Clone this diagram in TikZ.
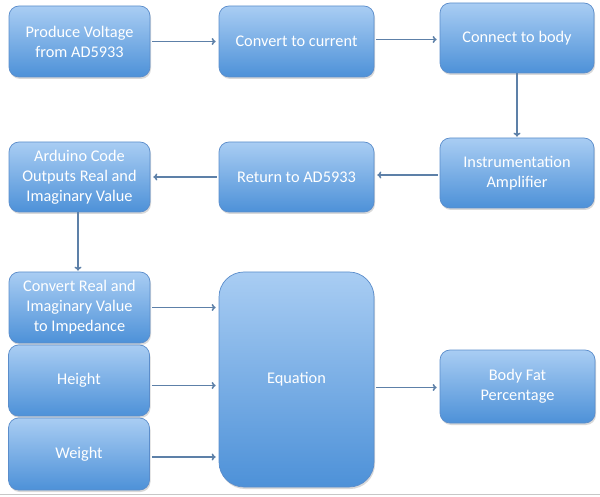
\documentclass[tikz,border=0pt]{standalone}
\usepackage{fontspec}
\setmainfont{Carlito}
\usetikzlibrary{shadows,arrows.meta}
\definecolor{boxtop}{HTML}{A9CDF3}
\definecolor{boxbot}{HTML}{4D91D8}
\definecolor{boxline}{HTML}{5B8DCB}
\definecolor{arrowc}{HTML}{5D80A8}
\begin{document}
\begin{tikzpicture}[x=1pt,y=1pt,
  box/.style={draw=boxline, line width=0.7pt, rounded corners=10pt,
    top color=boxtop, bottom color=boxbot, text=white, align=center,
    font=\fontsize{16.3}{20}\selectfont, inner sep=2pt,
    drop shadow={shadow xshift=1pt, shadow yshift=-2pt, opacity=0.25, fill=black!60}},
  conn/.style={draw=arrowc, line width=1.5pt, -{To[length=4pt,width=7pt]}, shorten >=3pt}]
\useasboundingbox (0,0) rectangle (600,496);
\draw[line width=1.5pt, black!22] (0,1.5) -- (600,1.5);
\node[box, minimum width=141pt, minimum height=71pt] (b1) at (79.5,454.5) {Produce Voltage\\from AD5933};
\node[box, minimum width=155pt, minimum height=71pt] (b2) at (296.5,454.5) {Convert to current};
\node[box, minimum width=154pt, minimum height=70pt] (b3) at (517,458) {Connect to body};
\node[box, minimum width=154pt, minimum height=70pt] (b4) at (517,323) {Instrumentation\\Amplifier};
\node[box, minimum width=155pt, minimum height=70pt] (b5) at (296.5,319) {Return to AD5933};
\node[box, minimum width=141pt, minimum height=70pt] (b6) at (79.5,319) {Arduino Code\\Outputs Real and\\Imaginary Value};
\node[box, minimum width=141pt, minimum height=71pt] (b7) at (79.5,188.5) {Convert Real and\\Imaginary Value\\to Impedance};
\node[box, minimum width=141pt, minimum height=71pt] (b8) at (79,115.5) {Height};
\node[box, minimum width=141pt, minimum height=72pt] (b9) at (79,42) {Weight};
\node[box, rounded corners=25pt, minimum width=155pt, minimum height=215pt] (eq) at (296.5,116.5) {Equation};
\node[box, minimum width=155pt, minimum height=73pt] (bf) at (517.5,109.5) {Body Fat\\Percentage};
\draw[conn, shorten <=2pt] (b1.east) -- (b1.east -| b2.west);
\draw[conn, shorten <=2pt] ([yshift=2pt]b2.east) -- ([yshift=2pt]b2.east -| b3.west);
\draw[conn, shorten >=1pt] (b3.south) -- (b4.north);
\draw[conn, shorten <=2pt] ([yshift=-2pt]b4.west) -- ([yshift=-2pt]b4.west -| b5.east);
\draw[conn, shorten <=2pt] (b5.west) -- (b5.west -| b6.east);
\draw[conn, shorten >=1pt] ([xshift=-1.5pt]b6.south) -- ([xshift=-1.5pt]b6.south |- b7.north);
\draw[conn, shorten <=2pt] (b7.east) -- (b7.east -| eq.west);
\draw[conn, shorten <=2pt] ([yshift=-5pt]b8.east) -- ([yshift=-5pt]b8.east -| eq.west);
\draw[conn, shorten <=2pt] ([yshift=-3pt]b9.east) -- ([yshift=-3pt]b9.east -| eq.west);
\draw[conn, shorten <=2pt] ([yshift=-1pt]eq.east |- bf.west) -- ([yshift=-1pt]bf.west);
\end{tikzpicture}
\end{document}
